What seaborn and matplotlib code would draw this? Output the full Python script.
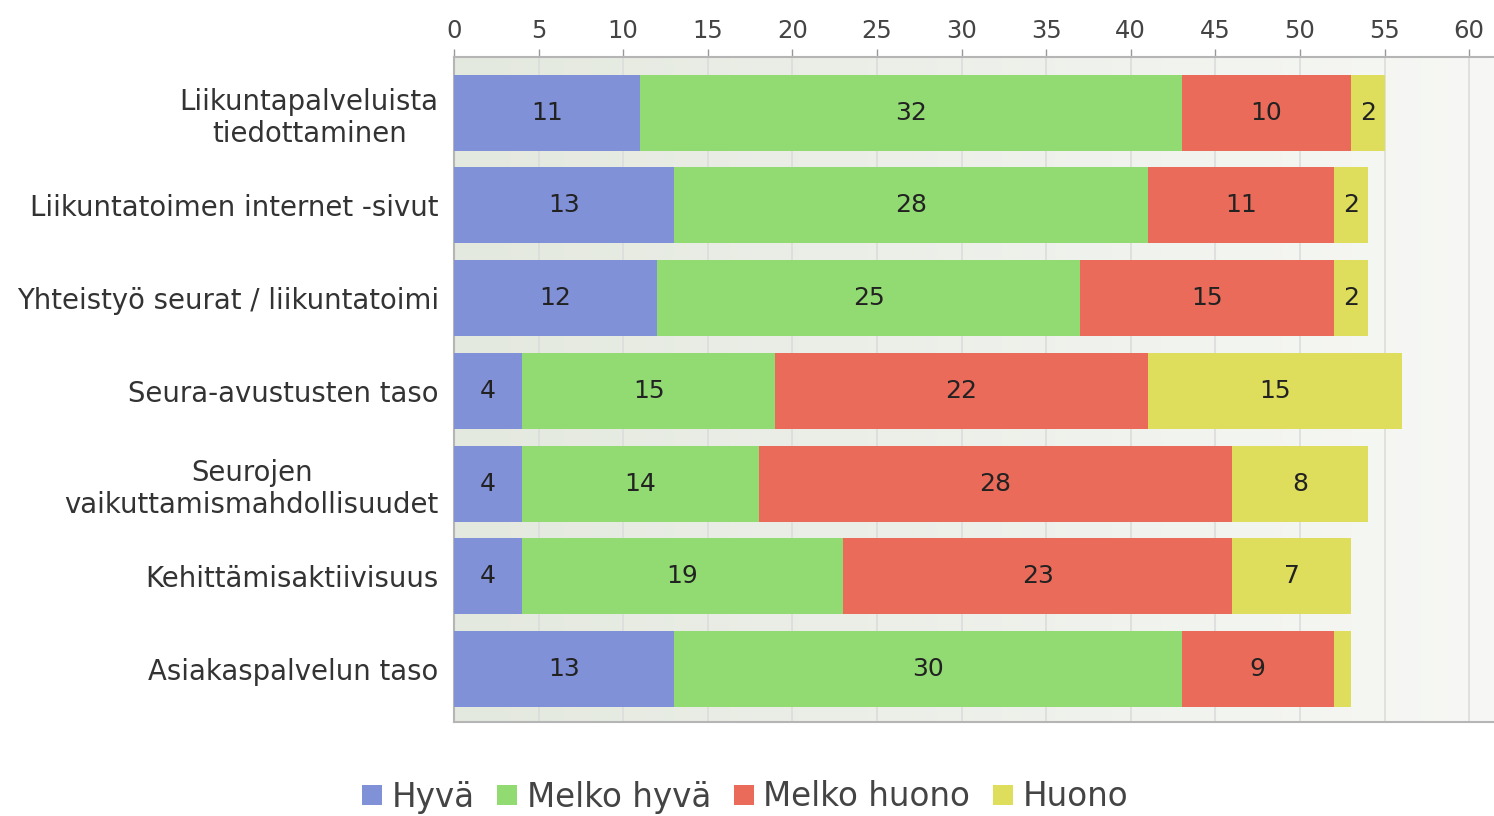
import numpy as np
import pandas as pd
import matplotlib
matplotlib.use("Agg")
import matplotlib.pyplot as plt
import seaborn as sns
from matplotlib.patches import Patch
from matplotlib.colors import LinearSegmentedColormap

categories = ["Liikuntapalveluista\ntiedottaminen", "Liikuntatoimen internet -sivut",
              "Yhteistyö seurat / liikuntatoimi", "Seura-avustusten taso",
              "Seurojen\nvaikuttamismahdollisuudet", "Kehittämisaktiivisuus",
              "Asiakaspalvelun taso"]
series = ["Hyvä", "Melko hyvä", "Melko huono", "Huono"]
hyva = [11, 13, 12, 4, 4, 4, 13]
melko_hyva = [32, 28, 25, 15, 14, 19, 30]
melko_huono = [10, 11, 15, 22, 28, 23, 9]
huono = [2, 2, 2, 15, 8, 7, 1]
colors = ["#8191d8", "#92db72", "#eb6b5a", "#dede5c"]

sns.set_theme(style="white")
plt.rcParams['font.family'] = ['DejaVu Sans']

fig = plt.figure(figsize=(14.94, 8.16), dpi=100)
ax = fig.add_axes([454/1494, 1 - 722/816, 1 - 454/1494, (722 - 57)/816])

# background gradient
grad = np.linspace(0, 1, 256).reshape(1, -1)
bg = LinearSegmentedColormap.from_list("bg", ["#e4e9df", "#f7f8f5"])
ax.imshow(grad, aspect="auto", cmap=bg, extent=[0, 1, 0, 1], transform=ax.transAxes, zorder=-5)

vals = [hyva, melko_hyva, melko_huono, huono]
cum = np.cumsum(np.array(vals), axis=0)
for i in range(len(series) - 1, -1, -1):
    df = pd.DataFrame({"cat": categories, "v": cum[i]})
    sns.barplot(data=df, y="cat", x="v", orient="h", color=colors[i], width=0.82,
                saturation=1, ax=ax, zorder=3, linewidth=0)

for i in range(len(series)):
    for j in range(len(categories)):
        v = vals[i][j]
        if v < 2:
            continue
        start = cum[i][j] - v
        ax.text(start + v / 2, j, str(v), ha="center", va="center", fontsize=18,
                color="#222222", zorder=5)

ax.set_xlim(0, (1494 - 454) / 16.92)
ax.set_ylim(6.57, -0.6)
ax.set_xticks(range(0, 61, 5))
ax.xaxis.tick_top()
ax.xaxis.set_label_position("top")
ax.tick_params(axis="x", top=True, length=6, width=1, color="#999999", labelsize=17.5,
               labelcolor="#444444", pad=4)
ax.tick_params(axis="y", left=False, labelsize=19.8, labelcolor="#333333", pad=5)
for lab in ax.get_yticklabels():
    lab.set_multialignment("center")
ax.set_xlabel("")
ax.set_ylabel("")
ax.grid(axis="x", color="#dcdcdc", linewidth=1.2, zorder=0)
ax.set_axisbelow(True)
ax.spines["right"].set_visible(False)
for s in ["top", "bottom", "left"]:
    ax.spines[s].set_color("#b5b5b5")
    ax.spines[s].set_linewidth(1.5)

handles = [Patch(facecolor=c, edgecolor="none") for c in colors]
fig.legend(handles, series, loc="center", bbox_to_anchor=(745/1494, 1 - 797/816), ncol=4,
           frameon=False, fontsize=23.5, handlelength=0.6, handleheight=0.6,
           handletextpad=0.3, columnspacing=0.7, labelcolor="#444444")

fig.savefig("out.png", dpi=100)
